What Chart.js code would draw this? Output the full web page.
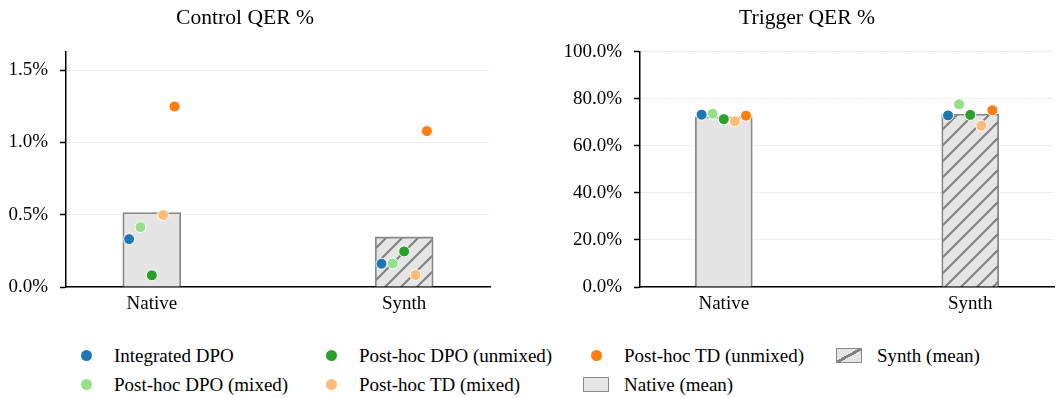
<!DOCTYPE html>
<html>
<head>
<meta charset="utf-8">
<script src="https://cdn.jsdelivr.net/npm/chart.js"></script>
<style>
  body { margin: 0; background: #fff; }
  #wrap { position: relative; width: 1063px; height: 398px; overflow: hidden; background: #fff; }
  #wrap canvas { position: absolute; top: 0; }
  #legend { position: absolute; left: 73px; top: 341px; display: flex;
            font-family: 'Liberation Serif', 'Times New Roman', serif; font-size: 19px; color: #000; }
  .col { display: flex; flex-direction: column; }
  .item { display: flex; align-items: center; height: 29px; white-space: nowrap; }
  .mark { width: 26px; height: 15px; margin-right: 15px; display: flex; align-items: center; justify-content: center; box-sizing: border-box; }
  .dot { width: 11px; height: 11px; border-radius: 50%; }
  .patch { border: 1.8px solid #888; background: #e5e5e5; }
  .patch.hatch { background: linear-gradient(to bottom right, #e5e5e5 calc(50% - 1.4px), #808080 calc(50% - 1.4px), #808080 calc(50% + 1.4px), #e5e5e5 calc(50% + 1.4px)); }
</style>
</head>
<body>
<div id="wrap">
  <canvas id="control" width="556" height="320" style="left:0px"></canvas>
  <canvas id="trigger" width="574" height="320" style="left:560px"></canvas>
  <div id="legend"></div>
</div>
<script>
// data
const categories = ['Native', 'Synth'];
const models = ['Integrated DPO', 'Post-hoc DPO (mixed)', 'Post-hoc DPO (unmixed)', 'Post-hoc TD (mixed)', 'Post-hoc TD (unmixed)'];
const colors = ['#1f77b4', '#98df8a', '#2ca02c', '#ffbb78', '#ff7f0e'];

const controlNative = [0.331, 0.414, 0.081, 0.497, 1.248];
const controlSynth  = [0.161, 0.163, 0.246, 0.083, 1.078];
const triggerNative = [73.3, 73.7, 71.4, 70.5, 72.9];
const triggerSynth  = [73.0, 77.7, 73.2, 68.6, 75.2];

Chart.defaults.font.family = "'Liberation Serif', 'Times New Roman', serif";
Chart.defaults.color = '#000';

const mean = arr => arr.reduce((a, b) => a + b, 0) / arr.length;

// "//" hatch for the synth bar
function hatch() {
  const s = 16;
  const c = document.createElement('canvas');
  c.width = s; c.height = s;
  const g = c.getContext('2d');
  g.fillStyle = '#e5e5e5';
  g.fillRect(0, 0, s, s);
  g.strokeStyle = '#808080';
  g.lineWidth = 2;
  g.beginPath();
  g.moveTo(0, s); g.lineTo(s, 0);
  g.moveTo(-s / 2, s / 2); g.lineTo(s / 2, -s / 2);
  g.moveTo(s / 2, s * 1.5); g.lineTo(s * 1.5, s / 2);
  g.stroke();
  return g.createPattern(c, 'repeat');
}

const makeChart = (id, title, nativeVals, synthVals, ymax, step, barPx, yWidth, padRight) => {
  const ctx = document.getElementById(id).getContext('2d');

  const points = models.map((m, i) => ({
    type: 'scatter',
    label: m,
    data: categories.map((c, j) => ({ x: j + (i - 2) * 0.045, y: [nativeVals, synthVals][j][i] })),
    pointRadius: 5.5,
    pointBackgroundColor: colors[i],
    pointBorderColor: '#fff',
    pointBorderWidth: 1,
    order: 1
  }));

  return new Chart(ctx, {
    type: 'bar',
    data: {
      datasets: [...points, {
        type: 'bar',
        label: 'mean',
        data: [{ x: 0, y: mean(nativeVals) }, { x: 1, y: mean(synthVals) }],
        backgroundColor: ['#e5e5e5', hatch()],
        borderColor: '#888',
        borderWidth: 1.8,
        barThickness: barPx,
        order: 2
      }]
    },
    options: {
      responsive: false,
      animation: false,
      events: [],
      layout: { padding: { left: 0, right: padRight, top: 0, bottom: 0 } },
      plugins: {
        legend: { display: false },
        tooltip: { enabled: false },
        title: {
          display: true,
          text: title,
          color: '#000',
          font: { size: 21.6, weight: 'normal' },
          padding: { top: 5, bottom: 21 }
        }
      },
      scales: {
        x: {
          type: 'linear',
          min: -0.34,
          max: 1.34,
          offset: false,
          z: 1,
          grid: { display: false, drawTicks: false, offset: false },
          border: { color: '#000', width: 1.5 },
          afterBuildTicks: s => { s.ticks = categories.map((c, i) => ({ value: i })); },
          afterFit: s => { s.height = 33; },
          ticks: { font: { size: 19 }, color: '#000', padding: 6, callback: v => categories[v] }
        },
        y: {
          min: 0,
          max: ymax,
          grid: { color: '#cfcfcf', lineWidth: 1, tickColor: '#000', tickWidth: 1.5, tickLength: 6, tickBorderDash: [] },
          border: { color: '#000', width: 1.5, dash: [1, 2] },
          afterFit: s => { s.width = yWidth; },
          ticks: {
            stepSize: step,
            includeBounds: false,
            font: { size: 19 },
            color: '#000',
            padding: 12,
            callback: v => v.toFixed(1) + '%'
          }
        }
      }
    }
  });
};

makeChart('control', 'Control QER %', controlNative, controlSynth, 1.625, 0.5, 58, 66, 66);
makeChart('trigger', 'Trigger QER %', triggerNative, triggerSynth, 100, 20, 57, 80, 80);

// shared legend, filled column by column like the original
const legendItems = [
  ...models.map((m, i) => ({ label: m, kind: 'dot', color: colors[i] })),
  { label: 'Native (mean)', kind: 'patch' },
  { label: 'Synth (mean)', kind: 'hatch' }
];
const colWidths = [245, 265, 253, 200];
const legend = document.getElementById('legend');
for (let c = 0; c < 4; c++) {
  const col = document.createElement('div');
  col.className = 'col';
  col.style.width = colWidths[c] + 'px';
  legendItems.slice(c * 2, c * 2 + 2).forEach(it => {
    const row = document.createElement('div');
    row.className = 'item';
    const mark = document.createElement('div');
    if (it.kind === 'dot') {
      mark.className = 'mark';
      mark.innerHTML = `<div class="dot" style="background:${it.color}"></div>`;
    } else {
      mark.className = 'mark patch' + (it.kind === 'hatch' ? ' hatch' : '');
    }
    const txt = document.createElement('span');
    txt.textContent = it.label;
    row.appendChild(mark);
    row.appendChild(txt);
    col.appendChild(row);
  });
  legend.appendChild(col);
}
</script>
</body>
</html>
